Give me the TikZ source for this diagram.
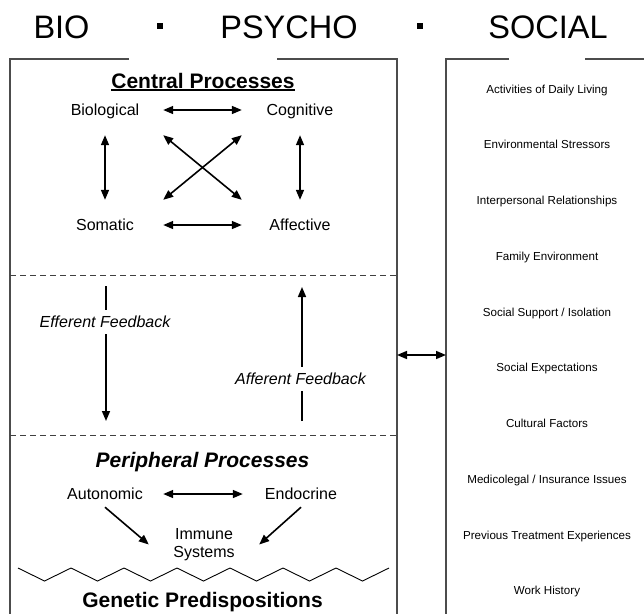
\documentclass[tikz,border=0pt]{standalone}
\usepackage{fontspec}
\setmainfont{Liberation Sans}
\usetikzlibrary{arrows.meta}
\begin{document}
\begin{tikzpicture}[x=1pt,y=-1pt,
  boxline/.style={line width=1.1pt, draw=black!70},
  divline/.style={line width=0.9pt, draw=black!75, dash pattern=on 6pt off 4pt},
  biarr/.style={line width=1.6pt, {Triangle[length=10pt,width=8pt]}-{Triangle[length=10pt,width=8pt]}},
  onearr/.style={line width=1.6pt, -{Triangle[length=10pt,width=8pt]}},
  plainln/.style={line width=1.6pt},
  ttl/.style={font=\fontsize{32.5}{36}\selectfont, inner sep=0, anchor=base},
  head/.style={font=\fontsize{21}{25}\selectfont\bfseries, inner sep=0, anchor=base},
  lbl/.style={font=\fontsize{16}{19}\selectfont, text height=11.5pt, text depth=0pt, inner sep=0, minimum width=116pt, minimum height=50pt},
  plbl/.style={font=\fontsize{16}{19}\selectfont, text height=11.5pt, text depth=0pt, inner sep=0, minimum width=116pt, minimum height=26pt},
  fb/.style={font=\fontsize{16}{19}\selectfont\itshape, text height=11.5pt, text depth=0pt, inner sep=0, minimum height=24pt},
  soc/.style={font=\fontsize{11.6}{14}\selectfont, text height=8.3pt, text depth=0pt, inner sep=0},
  sqdot/.style={fill=black, inner sep=0, minimum size=6.5pt}
]
\useasboundingbox (0,0) rectangle (644,614);

% titles
\node[ttl] (tbio) at (61.5,38) {BIO};
\node[ttl] (tpsy) at (289,38) {PSYCHO};
\node[ttl] (tsoc) at (548,38) {SOCIAL};
\node[sqdot] (dot1) at (160,26) {};
\node[sqdot] (dot2) at (420,26) {};

% left box
\draw[boxline] (129,59) -- (10,59) -- (10,614);
\draw[boxline] (277,59) -- (397,59) -- (397,614);
% right box
\draw[boxline] (509,59) -- (446,59) -- (446,614);
\draw[boxline] (585,59) -- (644,59);

% dividers
\draw[divline] (10,275) -- (397,275);
\draw[divline] (10,435) -- (397,435);

% central processes
\node[head] (cp) at (203,88) {Central Processes};
\draw[line width=1.3pt] ([yshift=-2pt]cp.base west) -- ([yshift=-2pt]cp.base east);

\node[lbl] (bio) at (105,110) {Biological};
\node[lbl] (cog) at (300,110) {Cognitive};
\node[lbl] (som) at (105,225) {Somatic};
\node[lbl] (aff) at (300,225) {Affective};

\draw[biarr] (bio.east) -- (cog.west);
\draw[biarr] (som.east) -- (aff.west);
\draw[biarr] (bio.south) -- (som.north);
\draw[biarr] (cog.south) -- (aff.north);
\draw[biarr] (bio.south east) -- (aff.north west);
\draw[biarr] (som.north east) -- (cog.south west);

% feedback
\coordinate (effTop) at (106,286);
\coordinate (effBot) at (106,421);
\node[fb] (eff) at (105,322) {Efferent Feedback};
\draw[plainln] (effTop) -- (eff.north -| effTop);
\draw[onearr] (eff.south -| effBot) -- (effBot);

\coordinate (affTop) at (302,287);
\coordinate (affBot) at (302,421);
\node[fb] (afb) at (300.5,379) {Afferent Feedback};
\draw[onearr] (afb.north -| affTop) -- (affTop);
\draw[plainln] (affBot) -- (afb.south -| affBot);

% link between boxes
\coordinate (lbE) at (397,355);
\coordinate (rbW) at (446,355);
\draw[biarr] (lbE) -- (rbW);

% peripheral processes
\node[head, font=\fontsize{21}{25}\selectfont\bfseries\itshape] (pp) at (202.5,467) {Peripheral Processes};
\node[plbl] (aut) at (105,494) {Autonomic};
\node[plbl] (endo) at (301,494) {Endocrine};
\node[font=\fontsize{16}{18}\selectfont, align=center, inner sep=0, minimum width=110pt] (imm) at (204,544.5) {Immune\\Systems};
\draw[biarr] (aut.east) -- (endo.west);
\draw[onearr] (aut.south) -- (imm.west);
\draw[onearr] (endo.south) -- (imm.east);

% zigzag
\draw[line width=0.9pt, line join=miter] (18,568) \foreach \k in {0,...,6} { -- ({44.5+53*\k},581) -- ({71+53*\k},568) };

\node[head] (gp) at (202.5,607) {Genetic Predispositions};

% social factors
\foreach \t [count=\i from 0] in {Activities of Daily Living, Environmental Stressors, Interpersonal Relationships, Family Environment, Social Support / Isolation, Social Expectations, Cultural Factors, Medicolegal / Insurance Issues, Previous Treatment Experiences, Work History}
  \node[soc] (s\i) at (547, {89+55.75*\i}) {\t};
\end{tikzpicture}
\end{document}
